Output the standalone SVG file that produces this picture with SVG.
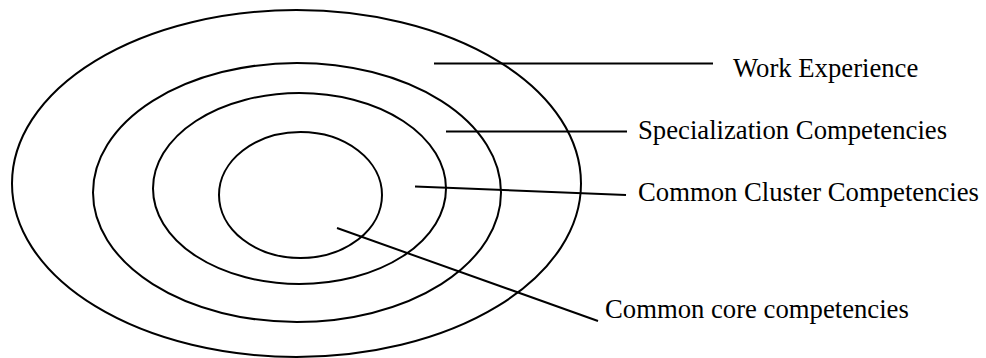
<svg xmlns="http://www.w3.org/2000/svg" width="986" height="358" viewBox="0 0 986 358">
<style>
.ring{fill:none;stroke:#000;stroke-width:2}
.lead{stroke:#000;stroke-width:2;fill:none}
.lbl{font-family:"Liberation Serif","Times New Roman",serif;font-size:26.7px;fill:#000}
</style>
<rect width="986" height="358" fill="#fff"/>
<g id="work-experience">
<ellipse class="ring" cx="296.5" cy="183.5" rx="284.5" ry="173.5"/>
<text class="lbl" x="733" y="77">Work Experience</text>
</g>
<g id="specialization">
<ellipse class="ring" cx="297" cy="192.5" rx="204" ry="129.5"/>
<text class="lbl" x="638" y="139">Specialization Competencies</text>
</g>
<g id="common-cluster">
<ellipse class="ring" cx="299.5" cy="188.5" rx="146.5" ry="95.5"/>
<text class="lbl" x="638" y="201">Common Cluster Competencies</text>
</g>
<g id="common-core">
<ellipse class="ring" cx="300.5" cy="195" rx="81.5" ry="63"/>
<text class="lbl" x="605" y="318">Common core competencies</text>
</g>
<g id="connectors">
<line class="lead" x1="434" y1="63.5" x2="713" y2="63.5"/>
<line class="lead" x1="446" y1="131.5" x2="627" y2="131.5"/>
<line class="lead" x1="415" y1="186.5" x2="626" y2="195"/>
<line class="lead" x1="337" y1="228" x2="598" y2="321"/>
</g>
</svg>
